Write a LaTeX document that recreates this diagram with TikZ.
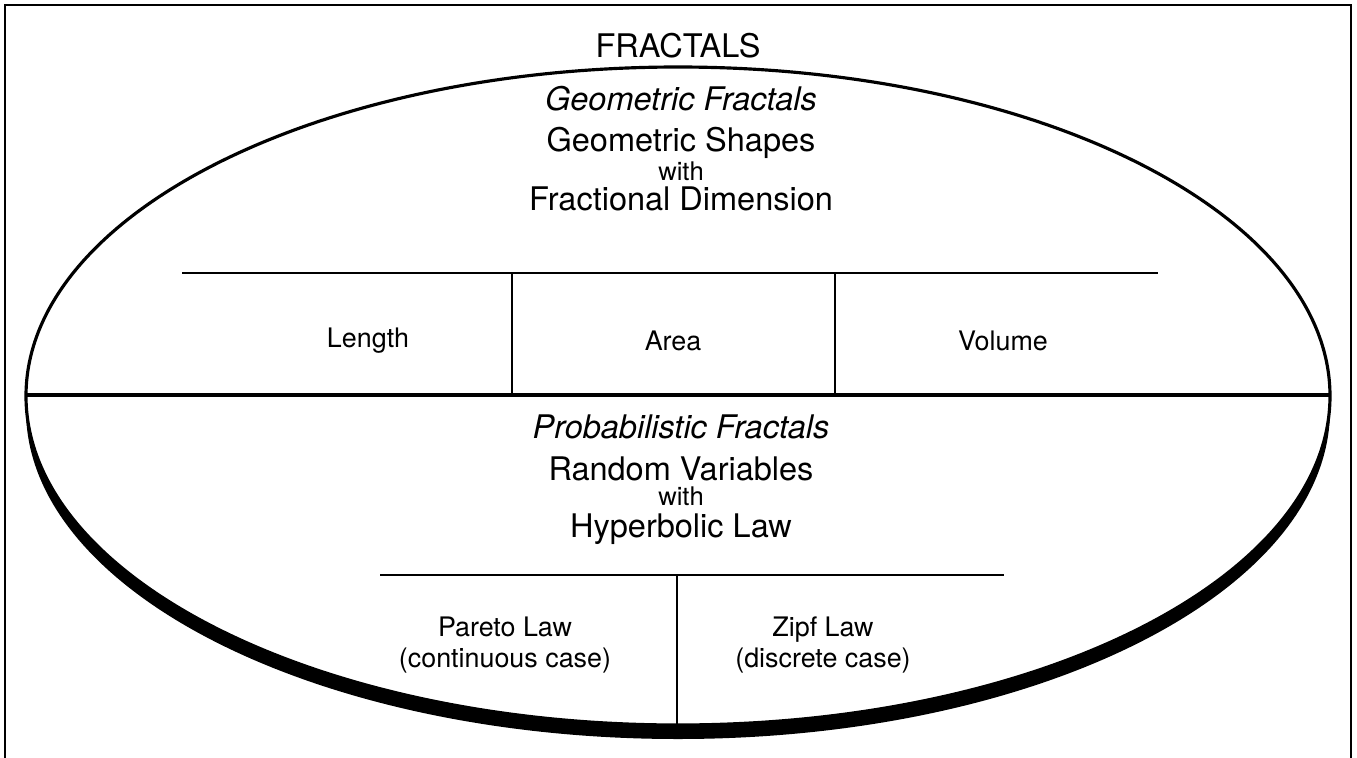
\documentclass[tikz,border=0pt]{standalone}
\usepackage{fontspec}
\setmainfont{TeX Gyre Heros}
\begin{document}
\begin{tikzpicture}[
                x=0.02cm, y=-0.02cm,
                bigtext/.style={
                    inner sep=0pt,
                    font=\fontsize{18.5}{20}\selectfont
                },
                headtext/.style={
                    bigtext,
                    font=\fontsize{18.5}{20}\selectfont\itshape
                },
                withtext/.style={
                    inner sep=0pt,
                    font=\fontsize{14.6}{16}\selectfont
                },
                celltext/.style={
                    inner sep=0pt,
                    align=center,
                    font=\fontsize{15.3}{17.5}\selectfont
                },
                frame/.style={
                    line width=1.4pt
                },
                rim/.style={
                    line width=1.8pt
                },
                divider/.style={
                    line width=1.1pt
                }
            ]
                \useasboundingbox (0,0) rectangle (1357,758);

                % outer frame, open at the bottom
                \draw[frame] (5,758) -- (5,5) -- (1351,5) -- (1351,758);

                % oval with its shadow
                \begin{scope}
                    \clip (0,396) rectangle (1357,758);
                    \fill (678,410) ellipse [x radius=652, y radius=329];
                \end{scope}
                \draw[rim, fill=white] (678,396) ellipse [x radius=652, y radius=329];

                \coordinate (ovalW) at (26,395);
                \coordinate (ovalE) at (1330,395);
                \draw[rim] (ovalW) -- (ovalE);

                \node[bigtext] (title) at (678,46) {FRACTALS};

                % geometric half
                \node[headtext] (geo)   at (681,99) {Geometric Fractals};
                \node[bigtext]  (geo1)  at (681,143) {Geometric Shapes};
                \node[withtext] (geo2)  at (681,171) {with};
                \node[bigtext]  (geo3)  at (681,199) {Fractional Dimension};

                \coordinate (geoL) at (182,273);
                \coordinate (geoR) at (1158,273);
                \coordinate (cutA) at (512,273);
                \coordinate (cutB) at (835,273);
                \draw[divider] (geoL) -- (geoR);
                \draw[divider] (cutA) -- (cutA |- ovalW);
                \draw[divider] (cutB) -- (cutB |- ovalW);

                \node[celltext] (length) at (368,341) {Length};
                \node[celltext] (area)   at (673,341) {Area};
                \node[celltext] (volume) at (1003,341) {Volume};

                % probabilistic half
                \node[headtext] (prob)  at (681,427) {Probabilistic Fractals};
                \node[bigtext]  (prob1) at (681,469) {Random Variables};
                \node[withtext] (prob2) at (681,496) {with};
                \node[bigtext]  (prob3) at (681,529) {Hyperbolic Law};

                \coordinate (probL) at (380,575);
                \coordinate (probR) at (1004,575);
                \coordinate (cutC) at (677,575);
                \coordinate (cutD) at (677,724);
                \draw[divider] (probL) -- (probR);
                \draw[divider] (cutC) -- (cutD);

                \node[celltext] (pareto) at (505,645) {Pareto Law\\(continuous case)};
                \node[celltext] (zipf)   at (823,645) {Zipf Law\\(discrete case)};
        \end{tikzpicture}
\end{document}
